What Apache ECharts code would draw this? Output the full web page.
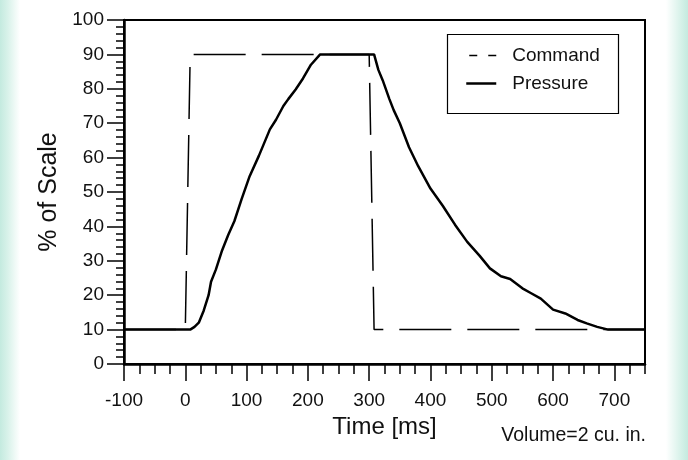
<!DOCTYPE html>
<html>
<head>
<meta charset="utf-8">
<script src="https://cdn.jsdelivr.net/npm/echarts@6/dist/echarts.min.js"></script>
<style>
html,body{margin:0;padding:0;}
body{width:688px;height:460px;background:linear-gradient(to right,#c4eadf 0px,#d9f2ea 8px,#ffffff 20px,#ffffff 666px,#d9f2ea 680px,#c4eadf 688px);}
#chart{width:688px;height:460px;}
</style>
</head>
<body>
<div id="chart"></div>
<script>
const commandX = [-100, 0, 8, 300, 308, 750];
const commandY = [10, 10, 90, 90, 10, 10];

const pressureX = [-100, 8, 15, 22, 30, 38, 42, 50, 60, 70, 80, 92, 105, 120, 138, 148, 160, 168, 180, 192, 205, 220, 250, 280, 308, 315, 322, 333, 340, 350, 365, 380, 400, 420, 440, 460, 480, 497, 515, 530, 550, 565, 580, 600, 620, 640, 655, 672, 690, 720, 750];
const pressureY = [10, 10, 10.8, 12, 15.5, 20, 23.9, 27.5, 33, 37.5, 41.5, 48, 54.6, 60.5, 68.2, 71, 75, 77, 79.8, 83, 87, 90, 90, 90, 90, 85.5, 82.5, 77, 73.8, 70, 63, 57.5, 51, 46, 40.5, 35.5, 31.5, 27.8, 25.5, 24.7, 22, 20.5, 19, 15.8, 14.7, 12.8, 11.8, 10.8, 10, 10, 10];

const xMajorTicks = [-100, 0, 100, 200, 300, 400, 500, 600, 700];
const xMinorTicks = [];
for (let v = -100; v <= 750; v += 25) xMinorTicks.push(v);

const seriesNames = ['Command', 'Pressure'];
const xTitle = 'Time [ms]';
const yTitle = '% of Scale';
const note = 'Volume=2 cu. in.';

const FONT = '"Liberation Sans", Arial, Helvetica, sans-serif';

const chart = echarts.init(document.getElementById('chart'), null, {renderer: 'canvas'});
chart.setOption({
  backgroundColor: 'transparent',
  animation: false,
  grid: {left: 124, top: 20, right: 43, bottom: 96, show: true, borderColor: '#000', borderWidth: 2, backgroundColor: '#fff'},
  xAxis: [
    {
      type: 'value', min: -100, max: 750, position: 'bottom',
      splitLine: {show: false},
      axisLine: {show: true, onZero: false, lineStyle: {color: '#000', width: 2.5}},
      axisTick: {show: true, customValues: xMinorTicks, length: 10, lineStyle: {color: '#000', width: 1.5}},
      axisLabel: {show: false}
    },
    {
      type: 'value', min: -100, max: 750, position: 'bottom',
      splitLine: {show: false},
      axisLine: {show: false, onZero: false},
      axisTick: {show: true, customValues: xMajorTicks, length: 17, lineStyle: {color: '#000', width: 1.5}},
      axisLabel: {show: true, customValues: xMajorTicks, margin: 27, fontSize: 19, color: '#111', fontFamily: FONT},
      name: xTitle, nameLocation: 'middle', nameGap: 48,
      nameTextStyle: {fontSize: 24, color: '#111', fontFamily: FONT}
    }
  ],
  yAxis: {
    type: 'value', min: 0, max: 100, interval: 10,
    splitLine: {show: false},
    axisLine: {show: true, onZero: false, lineStyle: {color: '#000', width: 2.5}},
    axisTick: {show: true, length: 17, lineStyle: {color: '#000', width: 1.5}},
    minorTick: {show: true, splitNumber: 5, length: 8, lineStyle: {color: '#000', width: 1.5}},
    axisLabel: {margin: 20, fontSize: 19, color: '#111', fontFamily: FONT},
    name: yTitle, nameLocation: 'middle', nameGap: 62, nameRotate: 90,
    nameTextStyle: {fontSize: 25, color: '#111', fontFamily: FONT}
  },
  legend: {
    show: true,
    orient: 'vertical', left: 445, top: 32, right: 'auto', bottom: 'auto',
    padding: [14, 10, 10, 20],
    itemWidth: 30, itemHeight: 14, itemGap: 9,
    itemStyle: {opacity: 0},
    textStyle: {fontSize: 19, color: '#111', fontFamily: FONT, padding: [0, 0, 0, 11]},
    data: [
      {name: seriesNames[0], lineStyle: {type: [8, 11], dashOffset: -3, width: 1.4, color: '#000'}, itemStyle: {opacity: 0}},
      {name: seriesNames[1], lineStyle: {width: 2.5, color: '#000'}, itemStyle: {opacity: 0}}
    ]
  },
  graphic: [
    {type: 'rect', left: 445, top: 32, shape: {width: 171, height: 79}, style: {fill: 'none', stroke: '#000', lineWidth: 1.2}, z: 10},
    {type: 'text', right: 42, top: 426, style: {text: note, fontSize: 19.5, fill: '#111', fontFamily: FONT}}
  ],
  series: [
    {
      name: seriesNames[0], type: 'line', xAxisIndex: 0, symbol: 'none', showSymbol: false,
      lineStyle: {color: '#000', width: 1.5, type: [52, 16]},
      itemStyle: {color: '#000'},
      data: commandX.map((x, i) => [x, commandY[i]])
    },
    {
      name: seriesNames[1], type: 'line', xAxisIndex: 0, symbol: 'none', showSymbol: false,
      lineStyle: {color: '#000', width: 2.5},
      itemStyle: {color: '#000'},
      data: pressureX.map((x, i) => [x, pressureY[i]])
    }
  ]
});
</script>
</body>
</html>
